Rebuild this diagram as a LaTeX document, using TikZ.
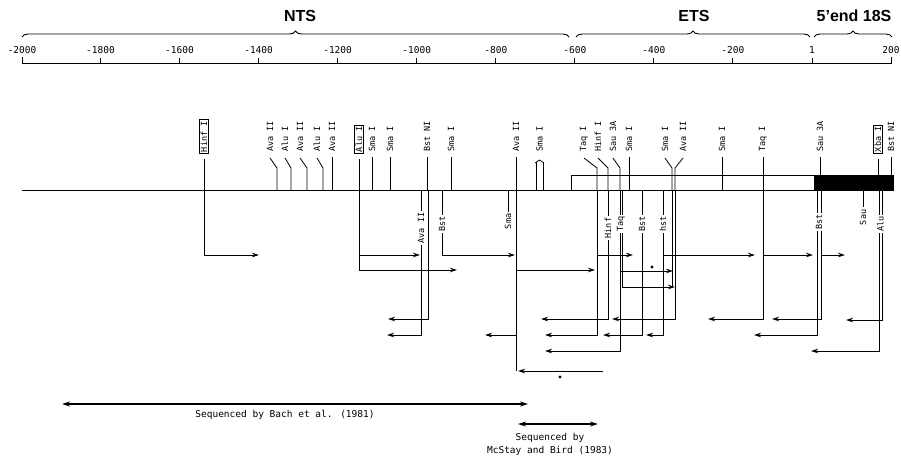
\documentclass[tikz,border=0pt]{standalone}
\usepackage{fontspec}
\setmainfont{Liberation Sans}
\newfontfamily\monofont{DejaVu Sans Mono}
\usetikzlibrary{arrows.meta, decorations.pathreplacing}

\begin{document}
\begin{tikzpicture}[x=1pt, y=-1pt,
		axis/.style={line width=0.9pt},
		brc/.style={decorate, decoration={brace, amplitude=6pt}, line width=0.9pt},
		region/.style={font=\bfseries\fontsize{16}{16}\selectfont, inner sep=0pt},
		num/.style={font=\monofont\fontsize{9.5}{10}\selectfont, inner sep=1pt},
		site/.style={font=\monofont\fontsize{8.5}{9}\selectfont, rotate=90, anchor=west, inner sep=1pt},
		boxsite/.style={site, draw, line width=0.9pt, inner sep=1.5pt},
		inl/.style={font=\monofont\fontsize{8.5}{9}\selectfont, rotate=90, fill=white, inner sep=1.5pt},
		cut/.style={line width=0.8pt},
		seq/.style={-{Stealth[length=7pt, width=4.5pt]}, line width=0.9pt},
		span/.style={{Stealth[length=8pt, width=5pt]}-{Stealth[length=8pt, width=5pt]}, line width=1.3pt},
		note/.style={font=\monofont\fontsize{9.5}{13}\selectfont, align=center}
	]
	\useasboundingbox (0,0) rectangle (901,458);

	% scale and regions
	\draw[axis] (22,57) -- (22,63) -- (891,63) -- (891,57);
	\foreach \x/\v [count=\i] in {22/-2000, 100.5/-1800, 179.5/-1600, 258.6/-1400, 337.6/-1200, 416.7/-1000,
			495.8/-800, 574.8/-600, 653.9/-400, 732.9/-200, 812/1, 891/200} {
		\draw[axis] (\x,58) -- (\x,63);
		\node[num] (n\i) at (\x,50) {\v};
	}
	\draw[brc] (22,37) -- (569,37);
	\draw[brc] (576,37) -- (810,37);
	\draw[brc] (814,37) -- (892,37);
	\node[region] (nts) at (300,16) {NTS};
	\node[region] (ets) at (694,16) {ETS};
	\node[region] (r18s) at (854,16) {5’end 18S};

	% map
	\draw[axis] (22,190) -- (894,190);
	\draw[axis] (571,190) -- (571,175) -- (814,175);
	\fill (814,175) rectangle (894,190);

	% sites above the map
	\foreach \x/\t [count=\i] in {332/Ava II, 372/Sma I, 390/Sma I, 427/Bst NI, 451/Sma I, 516/Ava II,
			629/Sma I, 722/Sma I, 763/Taq I, 820/Sau 3A, 891/Bst NI} {
		\draw[cut] (\x,157) -- (\x,190);
		\node[site] (s\i) at (\x,153) {\t};
	}
	\foreach \x/\t [count=\i] in {204/Hinf I, 359/Alu I, 878/Xba I} {
		\draw[cut] (\x,159) -- (\x,190);
		\node[boxsite] (b\i) at (\x,154) {\t};
	}
	\foreach \lx/\x/\t [count=\i] in {270/277/Ava II, 285/291/Alu I, 300/307/Ava II, 317/323/Alu I,
			584/597/Taq I, 598/608/Hinf I, 613/620/Sau 3A, 665/672/Sma I, 683/675/Ava II} {
		\draw[cut] (\lx,158) -- (\x,168) -- (\x,190);
		\node[site] (k\i) at (\lx,153) {\t};
	}
	\node[site] (sm2) at (539.5,153) {Sma I};
	\draw[cut] (535,163) -- (539.5,160) -- (544,163);
	\draw[cut] (536,162) -- (536,190);
	\draw[cut] (543,162) -- (543,190);

	% sequencing strategy
	\draw[seq] (204,190) |- (259,255);
	\draw[seq] (359,190) |- (457,270);
	\draw[seq] (359,255) -- (420,255);
	\draw[seq] (421,190) |- (387,335);
	\node[inl] (l1) at (421,228) {Ava II};
	\draw[seq] (428,190) |- (388,319);
	\draw[seq] (442,190) |- (515,255);
	\node[inl] (l2) at (442,224) {Bst};
	\draw[cut] (508,190) -- (508,212);
	\node[inl, anchor=east, fill=none] (l3) at (508,212) {Sma};
	\draw[cut] (516,190) -- (516,371);
	\draw[seq] (516,270) -- (595,270);
	\draw[seq] (516,335) -- (485,335);
	\draw[seq] (603,371) -- (518,371);
	\fill (560,377) circle (1.6pt);
	\draw[seq] (597,190) |- (545,335);
	\draw[seq] (597,255) -- (633,255);
	\draw[seq] (608,190) |- (541,319);
	\node[inl] (l4) at (608,228) {Hinf};
	\draw[seq] (620,190) |- (545,351);
	\draw[cut] (622,190) -- (622,287);
	\node[inl] (l5) at (621,224) {Taq};
	\draw[seq] (620,271) -- (673,271);
	\draw[seq] (622,287) -- (675,287);
	\fill (652,267) circle (1.6pt);
	\draw[seq] (642,190) |- (603,335);
	\node[inl] (l6) at (642,224) {Bst};
	\draw[seq] (663,190) |- (646,335);
	\draw[seq] (663,255) -- (755,255);
	\node[inl] (l7) at (663,224) {hst};
	\draw[cut] (672,190) -- (672,287);
	\draw[seq] (675,190) |- (612,319);
	\draw[seq] (763,190) |- (708,319);
	\draw[seq] (763,255) -- (813,255);
	\draw[seq] (817,190) |- (754,335);
	\draw[seq] (821,190) |- (772,319);
	\draw[seq] (821,255) -- (845,255);
	\node[inl] (l8) at (819,222) {Bst};
	\draw[cut] (863,190) -- (863,207);
	\node[inl, anchor=east, fill=none] (l9) at (863,208) {Sau};
	\draw[seq] (879,190) |- (811,351);
	\draw[seq] (882,190) |- (846,320);
	\node[inl] (l10) at (880.5,224) {Alu};

	% sequenced regions
	\coordinate (bach1) at (62,404);
	\coordinate (bach2) at (528,404);
	\draw[span] (bach1) -- (bach2);
	\node[note] (bach) at (285,415) {Sequenced by Bach et al. (1981)};
	\coordinate (mc1) at (518,424);
	\coordinate (mc2) at (598,424);
	\draw[span] (mc1) -- (mc2);
	\node[note] (mcstay) at (550,444) {Sequenced by\\McStay and Bird (1983)};
\end{tikzpicture}
\end{document}
